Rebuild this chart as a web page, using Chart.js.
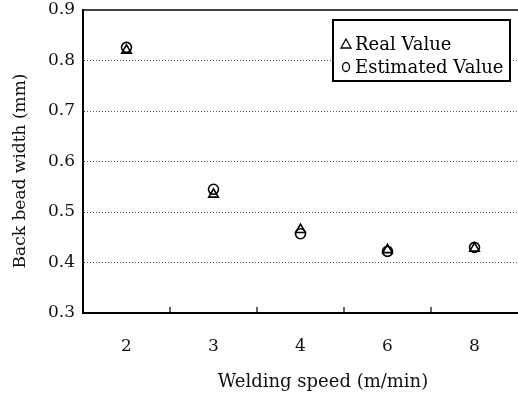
<!DOCTYPE html>
<html>
<head>
<meta charset="utf-8">
<script src="https://cdn.jsdelivr.net/npm/chart.js@4"></script>
<style>
    html, body { margin: 0; padding: 0; background: #fff; }
    #wrap { width: 518px; height: 398px; }
</style>
</head>
<body>
<div id="wrap"><canvas id="chart" width="518" height="398"></canvas></div>
<script>
// ─── DATOS ────────────────────────────────────────────────
const speeds = ['2', '3', '4', '6', '8']
const realValues = [0.820, 0.535, 0.465, 0.425, 0.428]
const estimatedValues = [0.826, 0.545, 0.457, 0.422, 0.430]
const yTicks = [0.3, 0.4, 0.5, 0.6, 0.7, 0.8, 0.9]
const xTitle = 'Welding speed (m/min)'
const yTitle = 'Back bead width (mm)'

const FONT = "'DejaVu Serif', 'Liberation Serif', serif"

// ─── PLUGIN: marco, ticks internos, titulos y leyenda ────
const framePlugin = {
    id: 'frame',
    afterDatasetsDraw(chart) {
        const { ctx, chartArea: a, scales: { x } } = chart
        ctx.save()
        ctx.strokeStyle = '#000'
        ctx.lineWidth = 1.5
        // linea superior
        ctx.beginPath()
        ctx.moveTo(a.left, a.top)
        ctx.lineTo(a.right, a.top)
        ctx.stroke()
        // ticks del eje x hacia adentro, entre categorias
        ctx.lineWidth = 1.2
        for (let i = 1; i < speeds.length; i++) {
            const px = (x.getPixelForValue(i - 1) + x.getPixelForValue(i)) / 2
            ctx.beginPath()
            ctx.moveTo(px, a.bottom)
            ctx.lineTo(px, a.bottom - 6)
            ctx.stroke()
        }

        // titulos de ejes (algo descentrados como en el original)
        ctx.fillStyle = '#111'
        ctx.textAlign = 'center'
        ctx.textBaseline = 'middle'
        ctx.font = `18px ${FONT}`
        ctx.fillText(xTitle, 323, 382)
        ctx.save()
        ctx.translate(21, 171)
        ctx.rotate(-Math.PI / 2)
        ctx.font = `17px ${FONT}`
        ctx.fillText(yTitle, 0, 0)
        ctx.restore()

        // leyenda
        const bx = 333, by = 20, bw = 177, bh = 61
        ctx.fillStyle = '#fff'
        ctx.fillRect(bx, by, bw, bh)
        ctx.lineWidth = 2
        ctx.strokeRect(bx, by, bw, bh)
        ctx.fillStyle = '#000'
        ctx.font = `18px ${FONT}`
        ctx.textAlign = 'left'
        chart.data.datasets.forEach((ds, i) => {
            const cy = by + 24 + i * 23
            ctx.lineWidth = 1.3
            ctx.beginPath()
            if (ds.pointStyle === 'triangle') {
                ctx.moveTo(bx + 13, cy - 5)
                ctx.lineTo(bx + 18, cy + 4)
                ctx.lineTo(bx + 8, cy + 4)
                ctx.closePath()
            } else {
                ctx.ellipse(bx + 13, cy, 3.5, 4.5, 0, 0, Math.PI * 2)
            }
            ctx.stroke()
            ctx.fillText(ds.label, bx + 22, cy + 1)
        })
        ctx.restore()
    }
}

// ─── GRAFICO ──────────────────────────────────────────────
new Chart(document.getElementById('chart'), {
    type: 'line',
    data: {
        labels: speeds,
        datasets: [
            {
                label: 'Real Value',
                data: realValues,
                showLine: false,
                pointStyle: 'triangle',
                pointRadius: 5.5,
                borderColor: '#000',
                backgroundColor: 'rgba(0,0,0,0)',
                borderWidth: 1.6
            },
            {
                label: 'Estimated Value',
                data: estimatedValues,
                showLine: false,
                pointStyle: 'circle',
                pointRadius: 5,
                borderColor: '#000',
                backgroundColor: 'rgba(0,0,0,0)',
                borderWidth: 1.6
            }
        ]
    },
    options: {
        responsive: false,
        animation: false,
        layout: { autoPadding: false, padding: { top: 10, right: 0, left: 6, bottom: 5 } },
        plugins: {
            legend: { display: false },
            tooltip: { enabled: false }
        },
        scales: {
            x: {
                offset: true,
                grid: { display: false },
                border: { color: '#000', width: 2 },
                ticks: { color: '#111', font: { family: FONT, size: 17 }, padding: 15 },
                afterFit: axis => {
                    axis.height = 80
                    axis.paddingLeft = 0
                    axis.paddingRight = 0
                }
            },
            y: {
                min: 0.3,
                max: 0.9,
                afterBuildTicks: axis => { axis.ticks = yTicks.map(v => ({ value: v })) },
                grid: {
                    color: c => (c.tick.value === 0.3 || c.tick.value === 0.9) ? 'rgba(0,0,0,0)' : '#555',
                    lineWidth: 1,
                    drawTicks: false
                },
                border: { color: '#000', width: 2, dash: [1, 2] },
                ticks: {
                    color: '#111',
                    font: { family: FONT, size: 17 },
                    padding: 8,
                    callback: v => Number(v).toFixed(1)
                },
                afterFit: axis => {
                    axis.width = 77
                    axis.paddingTop = 0
                    axis.paddingBottom = 0
                }
            }
        }
    },
    plugins: [framePlugin]
})
</script>
</body>
</html>
